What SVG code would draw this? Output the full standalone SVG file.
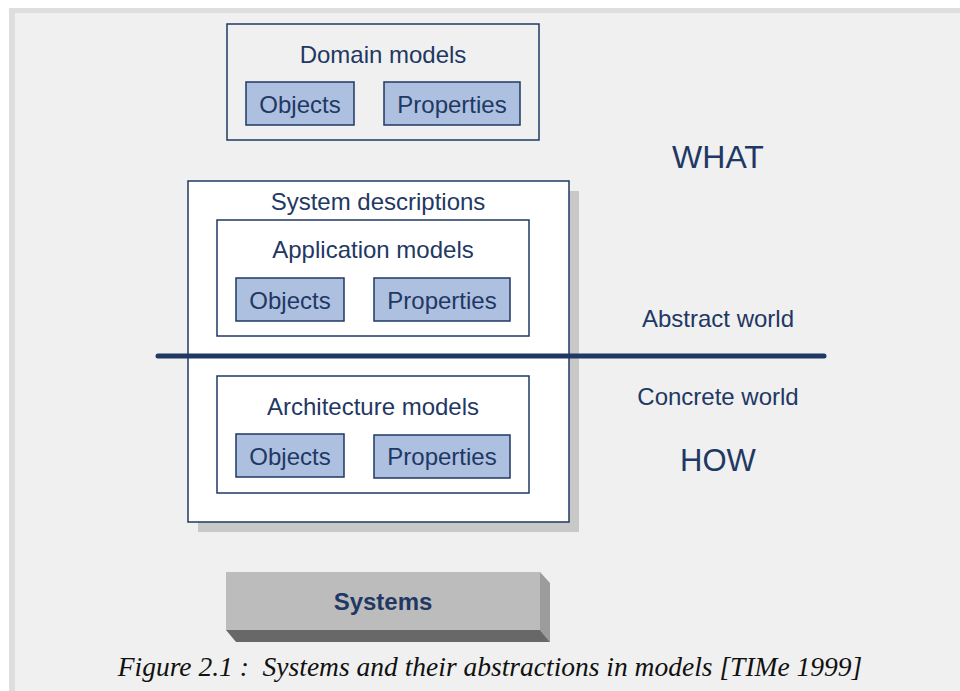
<svg xmlns="http://www.w3.org/2000/svg" width="960" height="691" viewBox="0 0 960 691">
<style>
.t{font-family:"Liberation Sans",Arial,sans-serif;fill:#1f3864;text-anchor:middle;font-size:24px}
.box{fill:none;stroke:#1f3864;stroke-width:1.5}
.wbox{fill:#ffffff;stroke:#1f3864;stroke-width:1.5}
.chip{fill:#adc0e0;stroke:#1f3864;stroke-width:1.5}
</style>
<rect x="0" y="0" width="960" height="691" fill="#ffffff"/>
<rect x="9" y="8" width="951" height="683" fill="#dedede"/>
<rect x="15" y="13" width="945" height="678" fill="#eff0ef"/>

<g id="domain-models">
<rect class="box" x="227" y="24" width="312" height="116"/>
<text class="t" x="383" y="63">Domain models</text>
<rect class="chip" x="246" y="82" width="108" height="43"/>
<text class="t" x="300" y="113">Objects</text>
<rect class="chip" x="384" y="82" width="136" height="43"/>
<text class="t" x="452" y="113">Properties</text>
</g>

<g id="system-descriptions">
<rect x="198" y="191" width="381" height="341" fill="#c8c8c8"/>
<rect class="wbox" x="188" y="181" width="381" height="341"/>
<text class="t" x="378" y="210">System descriptions</text>
</g>

<g id="application-models">
<rect class="wbox" x="217" y="220" width="312" height="116"/>
<text class="t" x="373" y="258">Application models</text>
<rect class="chip" x="236" y="278" width="108" height="43"/>
<text class="t" x="290" y="309">Objects</text>
<rect class="chip" x="374" y="278" width="136" height="43"/>
<text class="t" x="442" y="309">Properties</text>
</g>

<g id="architecture-models">
<rect class="wbox" x="217" y="376" width="312" height="117"/>
<text class="t" x="373" y="415">Architecture models</text>
<rect class="chip" x="236" y="434" width="108" height="43"/>
<text class="t" x="290" y="465">Objects</text>
<rect class="chip" x="374" y="435" width="136" height="43"/>
<text class="t" x="442" y="465">Properties</text>
</g>

<g id="connectors">
<line x1="158" y1="356" x2="824" y2="356" stroke="#1f3864" stroke-width="5" stroke-linecap="round"/>
</g>

<g id="labels">
<text class="t" x="718" y="168" style="font-size:32px">WHAT</text>
<text class="t" x="718" y="327">Abstract world</text>
<text class="t" x="718" y="405">Concrete world</text>
<text class="t" x="718" y="471" style="font-size:31px">HOW</text>
</g>

<g id="systems">
<polygon points="540,572 550,583 550,642 540,630" fill="#9c9c9c"/>
<polygon points="226,630 540,630 550,642 236,642" fill="#686868"/>
<rect x="226" y="572" width="314" height="58" fill="#bcbcbc"/>
<text class="t" x="383" y="610" font-weight="bold">Systems</text>
</g>

<text x="490" y="676" font-family="'Liberation Serif','Times New Roman',serif" font-style="italic" font-size="27.5" fill="#111111" text-anchor="middle" xml:space="preserve">Figure 2.1 :  Systems and their abstractions in models [TIMe 1999]</text>
</svg>
